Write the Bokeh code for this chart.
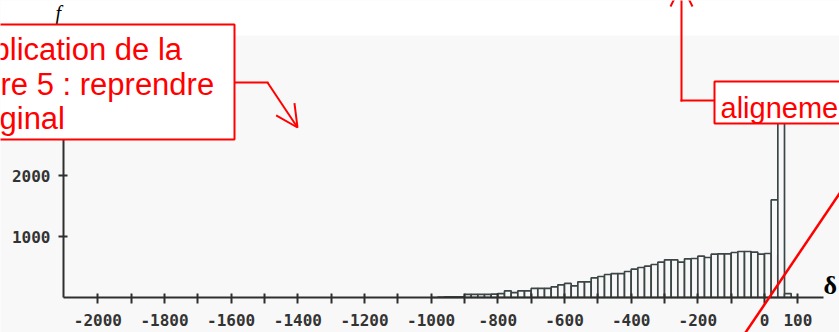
from bokeh.plotting import figure
from bokeh.models import Range1d, FixedTicker, BoxAnnotation, Label, Arrow, OpenHead
from bokeh.embed import file_html
from bokeh.resources import INLINE

# ---------------- data ----------------
bin_start = -1000
bin_width = 20
counts = [0, 5, 10, 12, 12, 50, 50, 50, 50, 55,
          65, 110, 80, 110, 110, 148, 148, 148, 175, 208,
          230, 190, 257, 257, 322, 344, 377, 393, 393, 426,
          464, 492, 514, 541, 579, 617, 617, 579, 634, 639,
          678, 656, 710, 716, 716, 738, 754, 754, 743, 710,
          721, 1600, 3100, 65, 0]

x_ticks = [-2000, -1900, -1800, -1700, -1600, -1500, -1400, -1300, -1200, -1100,
           -1000, -900, -800, -700, -600, -500, -400, -300, -200, -100, 0, 100]
x_labels = ["-2000", "", "-1800", "", "-1600", "", "-1400", "", "-1200", "",
            "-1000", "", "-800", "", "-600", "", "-400", "", "-200", "", "0", "100"]
y_ticks = [1000, 2000]
y_labels = ["1000", "2000"]

note_lines = ["plication de la", "re 5 : reprendre", "ginal"]
note2 = "aligneme"

# ---------------- layout (frame = whole canvas) ----------------
W, H = 839, 332
AX_L, AX_R, AX_T, AX_B = 63, 823, 35, 297   # axis extents in pixels
UX = 3.0          # x data units per pixel
UY = 1 / 0.061    # y data units per pixel


def X(px):
    return (px - 764) * UX


def Y(py):
    return (AX_B - py) * UY


p = figure(width=W, height=H, output_backend="svg", toolbar_location=None, title=None,
           x_range=Range1d(X(0), X(W)), y_range=Range1d(Y(H), Y(0)),
           min_border_left=0, min_border_right=0, min_border_top=0, min_border_bottom=0)
p.border_fill_color = "#f8f8f8"
p.background_fill_color = "#f8f8f8"
p.outline_line_color = None
p.xgrid.visible = False
p.ygrid.visible = False

# white strip on top
p.add_layout(BoxAnnotation(left=X(-20), right=X(W + 20), top=Y(-20), bottom=Y(AX_T),
                           fill_color="white", fill_alpha=1, line_color=None, level="underlay"))

# bars
lefts = [bin_start + i * bin_width for i in range(len(counts))]
rights = [l + bin_width for l in lefts]
p.quad(left=lefts, right=rights, bottom=0, top=counts,
       fill_color="#f8f8f8", line_color="#3c4646", line_width=1.7)

# axes
axc = "#2e2e2e"
for ax in (p.xaxis[0], p.yaxis[0]):
    ax.axis_line_width = 2
    ax.axis_line_color = axc
    ax.major_tick_line_width = 2
    ax.major_tick_line_color = axc
    ax.minor_tick_line_color = None
    ax.major_label_text_font = "DejaVu Sans Mono"
    ax.major_label_text_font_size = "16px"
    ax.major_label_text_font_style = "bold"
    ax.major_label_text_color = "#333333"

p.xaxis.fixed_location = 0
p.xaxis.bounds = (X(AX_L), X(AX_R))
p.xaxis.ticker = FixedTicker(ticks=x_ticks)
p.xaxis.major_label_overrides = dict(zip(x_ticks, x_labels))
p.xaxis.major_tick_in = 4
p.xaxis.major_tick_out = 6
p.xaxis.major_label_standoff = 10

p.yaxis.fixed_location = X(AX_L)
p.yaxis.bounds = (0, Y(AX_T))
p.yaxis.ticker = FixedTicker(ticks=y_ticks)
p.yaxis.major_label_overrides = dict(zip(y_ticks, y_labels))
p.yaxis.major_tick_in = 4
p.yaxis.major_tick_out = 5
p.yaxis.major_label_standoff = 8

# ---------------- annotations ----------------
RED = "#ff0000"

p.add_layout(Label(x=X(55), y=Y(23), text="f", text_font="Liberation Serif",
                   text_font_style="italic", text_font_size="20px", text_color="black",
                   level="overlay"))

p.add_layout(BoxAnnotation(left=X(-10), right=X(234), top=Y(24), bottom=Y(139),
                           fill_color="white", fill_alpha=1, line_color=RED, line_alpha=1,
                           line_width=2, level="overlay"))
for txt, bx, by in zip(note_lines, [-8, 0, -1], [49, 84, 118]):
    p.add_layout(Label(x=X(bx), y=Y(by), text=txt, text_font="Liberation Sans",
                       text_font_size="31px", text_color=RED, text_baseline="alphabetic",
                       level="overlay"))

p.add_layout(Arrow(end=None, x_start=X(234), y_start=Y(82), x_end=X(268), y_end=Y(82),
                   line_color=RED, line_width=2, level="overlay"))
p.add_layout(Arrow(end=OpenHead(size=22, line_color=RED, line_width=2),
                   x_start=X(267), y_start=Y(82), x_end=X(297), y_end=Y(127),
                   line_color=RED, line_width=2, level="overlay"))

p.add_layout(BoxAnnotation(left=X(714), right=X(W + 30), top=Y(81), bottom=Y(123),
                           fill_color="white", fill_alpha=1, line_color=RED, line_alpha=1,
                           line_width=2, level="overlay"))
p.add_layout(Label(x=X(720), y=Y(107), text=note2, text_font="Liberation Sans",
                   text_font_size="29px", text_color=RED, text_baseline="alphabetic",
                   level="overlay"))
p.add_layout(Arrow(end=None, x_start=X(714), y_start=Y(100), x_end=X(680), y_end=Y(100),
                   line_color=RED, line_width=2, level="overlay"))
p.add_layout(Arrow(end=OpenHead(size=22, line_color=RED, line_width=2),
                   x_start=X(681), y_start=Y(101), x_end=X(681), y_end=Y(-16),
                   line_color=RED, line_width=2, level="overlay"))

p.add_layout(Arrow(end=None, x_start=X(741), y_start=Y(338), x_end=X(843), y_end=Y(187),
                   line_color=RED, line_width=2.5, level="overlay"))

p.add_layout(Label(x=X(823), y=Y(285), text="δ", text_font="Liberation Serif",
                   text_font_style="bold", text_font_size="26px", text_color="black",
                   text_baseline="alphabetic", level="overlay"))

open("out.html", "w").write(file_html(p, INLINE))
